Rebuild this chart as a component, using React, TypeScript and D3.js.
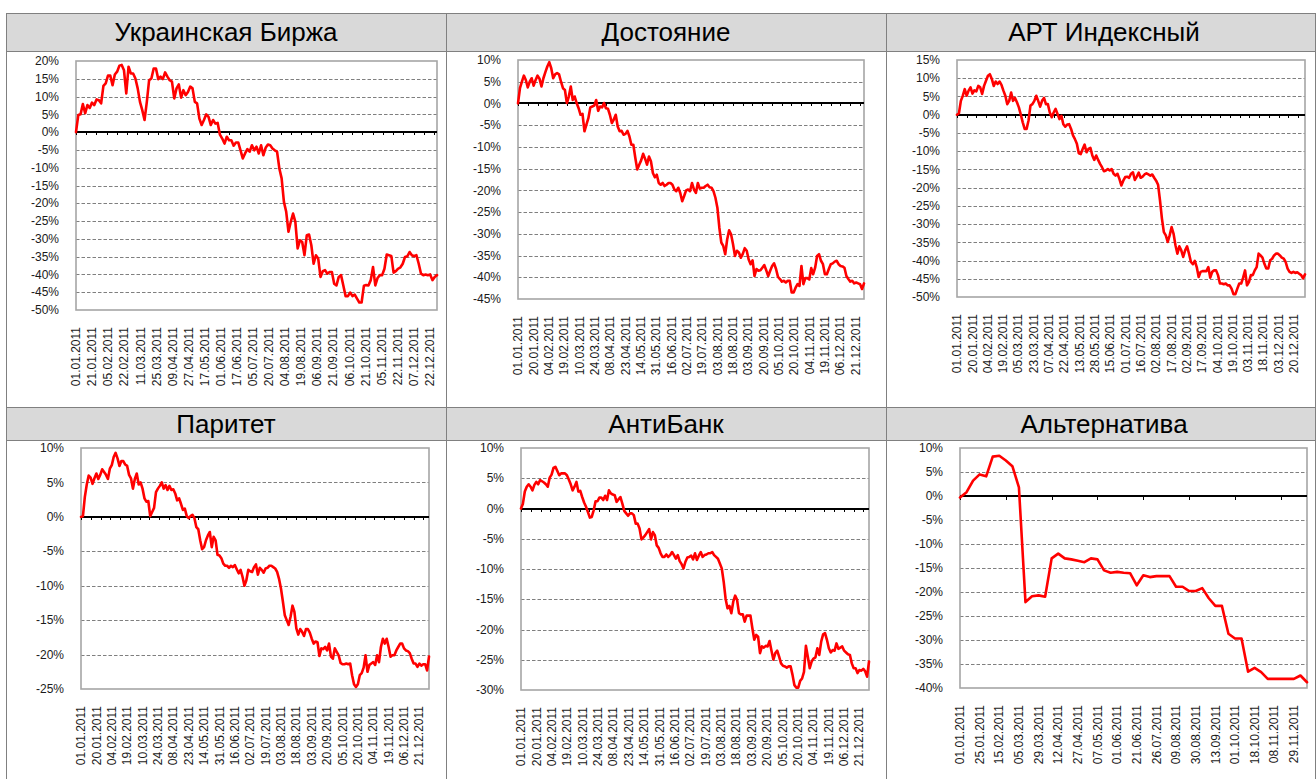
import React from 'react';
import * as d3 from 'd3';

// x axis labels (every 11th trading day, every 3rd week for Альтернатива)
const labelsUkr = ['01.01.2011', '21.01.2011', '05.02.2011', '22.02.2011', '11.03.2011', '25.03.2011', '09.04.2011', '27.04.2011', '17.05.2011', '01.06.2011', '17.06.2011', '05.07.2011', '20.07.2011', '04.08.2011', '19.08.2011', '06.09.2011', '21.09.2011', '06.10.2011', '21.10.2011', '05.11.2011', '22.11.2011', '07.12.2011', '22.12.2011'];
const labelsStd = ['01.01.2011', '20.01.2011', '04.02.2011', '19.02.2011', '10.03.2011', '24.03.2011', '08.04.2011', '23.04.2011', '14.05.2011', '31.05.2011', '16.06.2011', '02.07.2011', '19.07.2011', '03.08.2011', '18.08.2011', '03.09.2011', '20.09.2011', '05.10.2011', '20.10.2011', '04.11.2011', '19.11.2011', '06.12.2011', '21.12.2011'];
const labelsArt = ['01.01.2011', '20.01.2011', '04.02.2011', '19.02.2011', '05.03.2011', '23.03.2011', '07.04.2011', '22.04.2011', '13.05.2011', '28.05.2011', '15.06.2011', '01.07.2011', '16.07.2011', '02.08.2011', '17.08.2011', '02.09.2011', '17.09.2011', '04.10.2011', '19.10.2011', '03.11.2011', '18.11.2011', '03.12.2011', '20.12.2011'];
const labelsAlt = ['01.01.2011', '25.01.2011', '15.02.2011', '05.03.2011', '29.03.2011', '12.04.2011', '27.04.2011', '07.05.2011', '01.06.2011', '21.06.2011', '26.07.2011', '09.08.2011', '30.08.2011', '13.09.2011', '01.10.2011', '18.10.2011', '08.11.2011', '29.11.2011'];

// returns, % (evenly spaced over the year)
const ukrBirzha = [
  0, 4.8, 5.0, 7.9, 5.3, 7.6, 6.8, 8.3, 7.6, 9.2, 9.0, 8.1,
  13.0, 13.7, 15.9, 15.9, 13.2, 16.2, 17.0, 18.7, 18.9, 17.4, 10.9, 18.4, 16.5, 16.5, 15.1,
  12.3, 8.5, 6.2, 3.4, 8.5, 14.6, 15.1, 17.9, 17.9, 14.9, 15.6, 14.9, 16.8, 15.6, 14.6,
  14.2, 9.5, 12.3, 13.4, 9.7, 11.8, 10.4, 11.3, 12.8, 12.3, 8.5, 8.1, 3.8, 2.0, 3.4,
  5.0, 4.3, 2.0, 3.4, 2.4, 2.6, -0.7, -1.8, -3.2, -1.3, -2.3, -2.3, -3.8, -2.9,
  -2.9, -5.1, -7.4, -6.0, -4.8, -5.5, -3.7, -5.1, -4.1, -6.0, -3.7, -6.5, -4.4, -3.5,
  -3.7, -4.6, -5.1, -5.5, -10.2, -13.0, -19.6, -22.4, -28.0, -25.2, -22.9, -25.2, -32.7, -30.4, -30.9, -34.6,
  -29.0, -28.8, -31.8, -37.0, -34.6, -35.5, -40.7, -39.1, -38.8, -39.8, -39.3, -39.3, -42.6, -43.1, -40.7,
  -40.2, -43.1, -46.1, -46.1, -45.1, -46.1, -45.7, -46.8, -47.9, -47.9, -43.2, -43.0, -43.1, -41.6, -37.9, -43.1,
  -41.0, -40.2, -40.2, -38.4, -34.4, -34.6, -34.8, -39.5, -39.1, -38.4, -38.0, -37.0, -35.1, -34.9, -33.7,
  -34.6, -34.9, -34.6, -37.0, -39.8, -40.2, -40.0, -40.2, -40.0, -41.6, -40.7, -40.2,
];

const dostoyanie = [
  0, 3.5, 5.0, 6.4, 5.4, 3.7, 5.0, 5.8, 4.1,
  5.4, 6.4, 5.7, 3.9, 5.8, 7.2, 8.5, 9.5, 8.1, 5.8,
  6.7, 7.0, 6.7, 5.0, 3.5, 3.1, 0.1, 1.6, 3.9, 0.8,
  1.6, 0.1, -1.1, -2.6, -2.4, -6.4, -4.9, -3.4, -0.9, -0.7,
  -0.5, 0.8, -1.7, -0.7, -0.9, 0.1, -1.1, -1.2, -2.6,
  -4.5, -3.7, -2.6, -5.3, -6.4, -6.3, -7.2, -7.0, -6.3, -7.6,
  -9.5, -9.5, -12.5, -15.2, -14.1, -13.1, -11.6, -12.7, -14.1, -12.2,
  -13.3, -16.0, -17.0, -16.4, -18.3, -18.7, -18.3, -19.0, -18.7, -18.3,
  -18.3, -18.7, -19.8, -20.2, -19.4, -20.6, -22.5, -21.3, -20.0, -19.8,
  -20.2, -18.3, -19.8, -20.6, -18.3, -19.6, -19.4, -19.4, -19.0, -18.7,
  -19.3, -19.4, -20.2, -21.7, -24.0, -28.6, -32.0, -32.8, -34.7, -31.3,
  -29.2, -30.1, -32.4, -35.1, -33.9, -34.3, -35.5, -34.6, -33.3, -33.9,
  -35.9, -37.0, -36.1, -39.7, -38.1, -38.5, -38.4, -37.8, -37.2, -38.4,
  -39.7, -38.5, -37.4, -36.8, -38.1, -39.9, -40.4, -41.0, -40.8, -41.2,
  -40.8, -40.8, -43.5, -43.5, -42.4, -41.6, -42.0, -37.4, -41.6, -40.2,
  -40.2, -40.5, -37.9, -39.3, -37.8, -35.1, -34.7, -36.2, -37.0, -39.3,
  -39.3, -38.1, -37.0, -36.8, -36.4, -36.2, -37.0, -37.4, -37.5, -37.8,
  -39.7, -40.4, -41.0, -40.8, -41.4, -41.2, -41.4, -41.6, -42.7, -41.4,
];

const artIndex = [
  0, 0.4, 3.8, 5.2, 7.0, 5.2, 6.6, 7.5, 5.8,
  6.7, 6.4, 7.9, 7.5, 5.7, 7.9, 9.3, 10.7, 11.1, 9.8,
  7.9, 9.1, 8.4, 9.1, 8.2, 6.6, 5.2, 2.9, 3.8, 6.1,
  3.8, 4.6, 3.4, 2.0, 0, -2.1, -3.9, -3.9, -1.6,
  2.5, 2.9, 3.8, 5.2, 3.8, 2.2, 3.8, 4.6, 2.9,
  2.9, 0.6, -0.7, 0.6, 1.6, 0.2, -1.2, -0.3, -2.6, -3.3,
  -2.7, -2.6, -3.9, -5.7, -6.7, -8.0, -10.6, -10.8, -9.4, -8.2,
  -10.3, -9.4, -9.1, -11.2, -12.4, -11.2, -12.4, -13.5, -14.4, -15.5,
  -15.3, -14.9, -15.3, -14.9, -16.2, -16.7, -16.2, -17.6, -19.4, -18.1,
  -17.1, -17.0, -17.3, -16.2, -15.8, -17.9, -17.0, -15.9, -17.3, -17.0,
  -16.4, -16.1, -16.4, -16.7, -16.4, -17.3, -18.1, -19.2, -23.5, -28.5,
  -32.2, -33.1, -34.9, -33.1, -30.8, -32.6, -35.8, -38.1, -36.1, -37.2,
  -39.0, -37.2, -36.1, -38.1, -40.4, -41.0, -40.1, -41.8, -44.5, -43.1,
  -42.9, -42.9, -42.9, -41.8, -44.7, -43.1, -42.7, -42.7, -44.0, -46.3,
  -46.3, -46.5, -46.3, -46.8, -46.8, -47.7, -49.2, -49.2, -47.7, -46.3,
  -46.3, -44.7, -42.7, -46.8, -45.9, -44.0, -44.0, -42.7, -41.8, -38.1,
  -38.6, -39.2, -40.9, -42.2, -42.2, -39.9, -39.5, -38.6, -38.1, -38.1,
  -38.6, -39.2, -39.5, -40.4, -42.2, -43.1, -43.4, -43.1, -43.4, -43.2,
  -43.6, -44.0, -44.9, -43.8,
];

const paritet = [
  0, 0.1, 2.9, 4.7, 6.0, 5.7, 4.8, 5.6, 6.3, 5.5,
  6.1, 6.9, 6.5, 6.1, 5.5, 7.0, 7.5, 8.7, 9.3, 8.5,
  7.4, 8.1, 8.1, 7.6, 7.4, 6.1, 5.6, 4.1, 5.5, 6.3,
  4.7, 5.0, 4.1, 2.7, 2.2, 2.3, 0.1, 0.7, 1.3, 3.6,
  4.1, 4.5, 5.0, 4.1, 4.6, 3.9, 4.5, 3.9, 4.0, 3.4,
  2.4, 2.7, 1.9, 1.0, 1.2, 0.1, -0.2, 0.1, 0.3, -0.2,
  -1.5, -1.8, -3.4, -4.7, -4.4, -3.4, -2.7, -2.2, -4.4, -2.9,
  -3.4, -5.5, -5.6, -6.0, -6.8, -7.1, -7.1, -7.4, -7.1, -7.3,
  -7.0, -7.6, -8.2, -7.7, -8.7, -10.0, -9.2, -7.7, -7.9, -8.0,
  -7.3, -6.9, -8.4, -7.4, -7.7, -8.1, -7.5, -7.4, -7.1, -7.1,
  -7.3, -7.5, -8.0, -9.0, -10.4, -12.3, -14.3, -15.0, -15.7, -14.5,
  -12.9, -13.8, -16.2, -17.1, -16.3, -16.7, -17.3, -16.3, -16.3, -16.8,
  -17.7, -18.4, -18.1, -18.2, -20.2, -19.1, -19.2, -18.9, -19.4, -18.4,
  -20.3, -20.6, -19.1, -19.6, -20.1, -21.2, -21.4, -21.4, -21.3, -21.4,
  -21.3, -23.0, -24.3, -24.7, -24.3, -23.0, -22.7, -21.9, -20.1, -22.5,
  -21.5, -21.3, -21.1, -21.5, -20.1, -21.1, -18.9, -17.7, -18.4, -17.7,
  -18.9, -20.3, -20.1, -20.1, -19.4, -18.9, -18.4, -18.4, -19.1, -19.4,
  -19.5, -19.8, -20.6, -21.3, -21.3, -21.8, -21.3, -21.6, -21.4, -21.4,
  -22.3, -20.3,
];

const antiBank = [
  0, 0.8, 2.8, 3.6, 4.0, 3.6, 3.0, 3.9, 4.4, 4.0,
  4.7, 4.5, 4.3, 4.0, 3.6, 5.1, 5.6, 6.7, 6.9, 6.2,
  5.5, 5.8, 5.8, 5.8, 5.5, 4.8, 4.0, 3.0, 3.6, 4.4,
  2.8, 2.9, 1.9, 1.0, 0.3, -0.6, -1.5, -1.4, -0.3, 1.2,
  1.2, 1.8, 1.8, 1.4, 2.1, 1.4, 3.0, 2.5, 2.3, 2.2,
  1.1, 1.5, 1.9, 0.8, -0.4, -0.8, -1.2, -0.8, -0.8, -1.1,
  -2.5, -2.5, -3.3, -5.1, -4.8, -4.4, -3.9, -3.4, -5.1, -3.9,
  -4.4, -6.1, -6.5, -7.4, -8.0, -8.0, -7.6, -8.0, -7.7, -7.2,
  -7.7, -8.3, -7.7, -8.7, -9.2, -9.9, -8.8, -8.1, -8.0, -7.8,
  -8.4, -7.4, -8.5, -7.8, -7.2, -8.0, -7.7, -7.6, -7.4, -7.4,
  -7.2, -7.7, -8.0, -8.3, -9.1, -9.9, -12.1, -14.9, -16.5, -16.1,
  -17.3, -15.4, -14.4, -15.1, -17.3, -17.5, -17.5, -18.7, -17.7, -17.7,
  -17.7, -19.8, -21.7, -20.9, -21.2, -23.9, -22.8, -23.0, -22.7, -22.8,
  -21.9, -23.5, -25.0, -23.9, -23.5, -24.5, -25.6, -26.0, -26.1, -26.3,
  -26.1, -26.1, -27.5, -29.2, -29.6, -29.6, -28.5, -28.1, -27.0, -22.7,
  -24.5, -26.4, -25.3, -24.8, -24.6, -23.1, -24.2, -22.0, -20.8, -20.6,
  -21.7, -23.1, -23.8, -23.4, -23.5, -22.3, -23.2, -23.0, -22.8, -23.5,
  -23.8, -24.1, -24.2, -25.6, -26.4, -26.4, -27.2, -26.7, -26.8, -26.5,
  -26.9, -27.8, -25.3,
];

const alternativa = [
  -0.3, 0.8, 3.2, 4.5, 4.1, 8.2, 8.4, 7.4, 6.2, 1.8,
  -22.1, -20.9, -20.7, -21.0, -13.0, -12.0, -13.0, -13.2, -13.5, -13.8,
  -13.0, -13.2, -15.5, -16.0, -15.8, -16.0, -16.1, -18.6, -16.5, -16.9,
  -16.7, -16.7, -16.7, -18.9, -18.9, -19.8, -19.8, -19.2, -21.3, -22.9,
  -22.9, -28.7, -29.7, -29.7, -36.6, -35.8, -36.7, -38.1, -38.1, -38.1,
  -38.1, -38.1, -37.4, -38.8,
];

const FONT = '"Liberation Sans", Arial, sans-serif';

const panels = [
  { title: 'Украинская Биржа', values: ukrBirzha, labels: labelsUkr, nCat: 248, labelEvery: 11, tickEvery: 7, yMin: -50, yMax: 20,
    col: [6, 446], band: [13, 51], plot: [76, 61, 437, 310], tickLen: 3 },
  { title: 'Достояние', values: dostoyanie, labels: labelsStd, nCat: 249, labelEvery: 11, tickEvery: 7, yMin: -45, yMax: 10,
    col: [446, 886], band: [13, 51], plot: [518, 60, 864, 299], tickLen: 3 },
  { title: 'АРТ Индексный', values: artIndex, labels: labelsArt, nCat: 251, labelEvery: 11, tickEvery: 7, yMin: -50, yMax: 15,
    col: [886, 1322], band: [13, 51], plot: [957, 60, 1305, 297], tickLen: 3 },
  { title: 'Паритет', values: paritet, labels: labelsStd, nCat: 250, labelEvery: 11, tickEvery: 7, yMin: -25, yMax: 10,
    col: [6, 446], band: [407, 440], plot: [81, 448, 429, 689], tickLen: 3 },
  { title: 'АнтиБанк', values: antiBank, labels: labelsStd, nCat: 250, labelEvery: 11, tickEvery: 7, yMin: -30, yMax: 10,
    col: [446, 886], band: [407, 440], plot: [521, 448, 869, 690], tickLen: 3 },
  { title: 'Альтернатива', values: alternativa, labels: labelsAlt, nCat: 54, labelEvery: 3, tickEvery: 7, yMin: -40, yMax: 10,
    col: [886, 1322], band: [407, 440], plot: [960, 448, 1307, 688], tickLen: 4 },
];

// snap a 1px line onto the pixel grid
const crisp = v => Math.round(v) + 0.5;

function Panel({ p }) {
  const [left, top, right, bottom] = p.plot;
  const x = d3.scaleLinear().domain([0, p.nCat - 1]).range([left, right]);
  const y = d3.scaleLinear().domain([p.yMin, p.yMax]).range([bottom, top]);
  const n = p.values.length;
  const step = (p.nCat - 1) / (n - 1);

  const line = d3.line()
    .x((d, i) => x(i * step))
    .y(d => y(d));

  const yTicks = d3.range(p.yMin, p.yMax + 0.1, 5);
  const xTicks = d3.range(0, p.nCat, p.tickEvery);
  const y0 = Math.round(y(0));

  return (
    <g>
      <rect x={p.col[0]} y={p.band[0]} width={p.col[1] - p.col[0]} height={p.band[1] - p.band[0]} fill="#d9d9d9" />
      <text
        x={(p.col[0] + p.col[1]) / 2}
        y={(p.band[0] + p.band[1]) / 2}
        dy="0.35em"
        textAnchor="middle"
        fontSize={26}
        fontFamily={FONT}
        fill="#000"
      >
        {p.title}
      </text>

      <rect x={left} y={top} width={right - left} height={bottom - top} fill="#fff" />
      {yTicks.filter(v => v !== 0 && v !== p.yMax && v !== p.yMin).map(v => (
        <line key={v} x1={left} x2={right} y1={crisp(y(v))} y2={crisp(y(v))} stroke="#7f7f7f" strokeWidth={1} strokeDasharray="3.5,2" />
      ))}
      <rect x={left} y={top} width={right - left} height={bottom - top} fill="none" stroke="#a6a6a6" strokeWidth={1.6} />

      <line x1={left} x2={right} y1={y0} y2={y0} stroke="#000" strokeWidth={2} />
      {xTicks.map(t => (
        <line key={t} x1={crisp(x(t))} x2={crisp(x(t))} y1={y0} y2={y0 + p.tickLen} stroke="#000" strokeWidth={1} />
      ))}

      <path d={line(p.values)} fill="none" stroke="#ff0000" strokeWidth={2.6} strokeLinejoin="round" strokeLinecap="round" />

      {yTicks.map(v => (
        <text key={v} x={left - 17} y={y(v)} dy="0.35em" textAnchor="end" fontSize={12} fontFamily={FONT} fill="#1a1a1a">
          {`${v}%`}
        </text>
      ))}
      {p.labels.map((lab, i) => (
        <text
          key={lab}
          transform={`translate(${x(i * p.labelEvery)},${bottom + 17}) rotate(-90)`}
          dy="0.35em"
          textAnchor="end"
          fontSize={12}
          fontFamily={FONT}
          fill="#1a1a1a"
        >
          {lab}
        </text>
      ))}
    </g>
  );
}

export default function App() {
  const W = 1316;
  const H = 779;
  return (
    <div style={{ position: 'absolute', left: 0, top: 0 }}>
      <svg width={W} height={H} style={{ display: 'block', background: '#fff' }}>
        {panels.map(p => <Panel key={p.title} p={p} />)}
        {/* table grid */}
        {[13, 51, 407, 440].map(v => (
          <line key={`h${v}`} x1={6} x2={W} y1={v + 0.5} y2={v + 0.5} stroke="#808080" strokeWidth={1} />
        ))}
        {[6, 446, 886, W - 1].map(v => (
          <line key={`v${v}`} x1={v + 0.5} x2={v + 0.5} y1={13} y2={H} stroke="#808080" strokeWidth={1} />
        ))}
      </svg>
    </div>
  );
}
